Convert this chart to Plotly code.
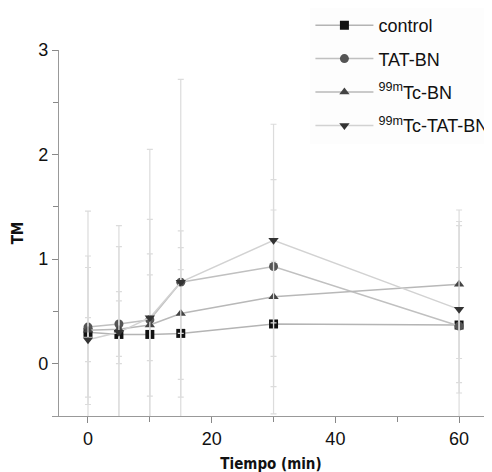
import plotly.graph_objects as go

time_min = [0, 5, 10, 15, 30, 60]

control = [0.30, 0.28, 0.28, 0.29, 0.38, 0.37]
control_err = [0.62, 0.84, 1.10, 0.61, 0.60, 0.55]

tat_bn = [0.35, 0.38, 0.42, 0.78, 0.93, 0.36]
tat_bn_err = [1.11, 0.31, 1.63, 0.49, 0.54, 1.00]

tc_bn = [0.32, 0.33, 0.37, 0.48, 0.64, 0.76]
tc_bn_err = [0.71, 0.99, 0.68, 0.63, 1.12, 0.71]

tc_tat_bn = [0.23, 0.30, 0.44, 0.78, 1.18, 0.52]
tc_tat_bn_err = [0.21, 0.30, 0.41, 1.94, 1.11, 0.80]

names = ["control", "TAT-BN", "<sup>99m</sup>Tc-BN", "<sup>99m</sup>Tc-TAT-BN"]
values = [control, tat_bn, tc_bn, tc_tat_bn]
errors = [control_err, tat_bn_err, tc_bn_err, tc_tat_bn_err]
symbols = ["square", "circle", "triangle-up", "triangle-down"]
marker_colors = ["#111111", "#555555", "#444444", "#333333"]
line_colors = ["#b4b4b4", "#c0c0c0", "#b8b8b8", "#d2d2d2"]

fig = go.Figure()
for i in range(4):
    fig.add_trace(go.Scatter(
        x=time_min, y=values[i], name=names[i], mode="lines+markers",
        legendgroup="g%d" % i,
        line=dict(color=line_colors[i], width=1.5),
        marker=dict(symbol=symbols[i], size=9, color=marker_colors[i]),
        error_y=dict(type="data", array=errors[i], visible=True,
                     color="#dcdcdc", thickness=1.2, width=3),
        cliponaxis=True,
    ))

axis_font = dict(family="Liberation Sans, Arial, sans-serif", size=18, color="#111")
title_font = dict(family="Liberation Sans Narrow, DejaVu Sans Condensed, Arial Narrow, sans-serif",
                  size=15, color="#111")

fig.update_layout(
    width=492, height=472,
    margin=dict(l=44, r=10, t=42, b=64, autoexpand=False),
    plot_bgcolor="white", paper_bgcolor="white",
    font=axis_font,
    showlegend=True,
    legend=dict(x=0.590, xanchor="left", y=1.1175, yanchor="top",
                bgcolor="rgba(246,246,246,0.25)",
                font=dict(size=18, family="Liberation Sans, Arial, sans-serif", color="#111"),
                tracegroupgap=7, itemwidth=58),
    xaxis=dict(range=[-5.82, 65.0], tickvals=[0, 20, 40, 60], ticks="outside", ticklen=6,
               tickcolor="#888", showline=True, linecolor="#999", linewidth=1.2,
               showgrid=False, zeroline=False, tickfont=axis_font,
               minor=dict(tickvals=[10, 30, 50], ticks="outside", ticklen=5, tickcolor="#888"),
               title=dict(text="<b>Tiempo (min)</b>", font=title_font, standoff=10)),
    yaxis=dict(range=[-0.5, 3], tickvals=[0, 1, 2, 3], ticks="outside", ticklen=6,
               anchor="free", position=0.0137,
               tickcolor="#888", showline=True, linecolor="#999", linewidth=1.2,
               showgrid=False, zeroline=False, tickfont=axis_font,
               minor=dict(tickvals=[0.5, 1.5, 2.5], ticks="outside", ticklen=5, tickcolor="#888"),
               title=dict(text="<b>TM</b>", font=title_font, standoff=10)),
)

fig.write_html("out.html")
